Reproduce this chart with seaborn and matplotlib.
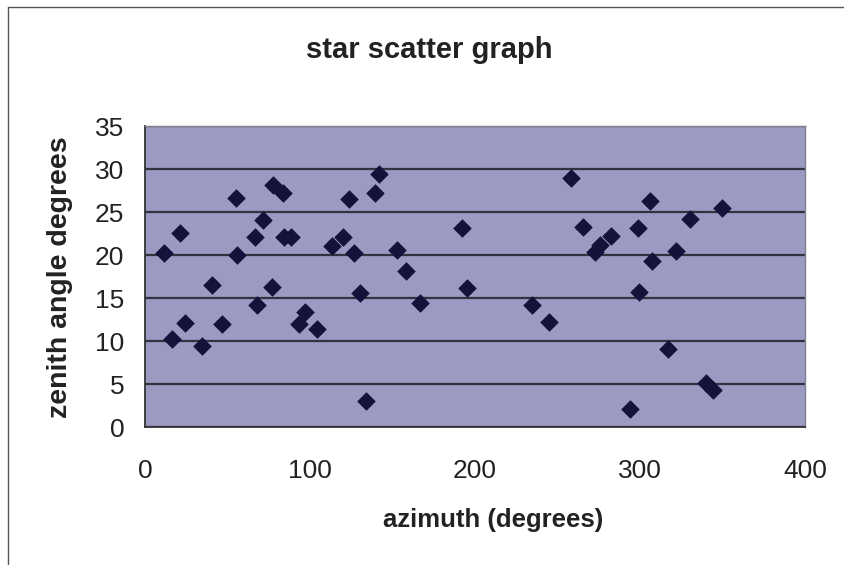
import matplotlib
matplotlib.use("Agg")
import matplotlib.pyplot as plt
import seaborn as sns
import pandas as pd
from matplotlib.lines import Line2D

azimuth = [11.5, 21.2, 16.6, 24.3, 34.6, 40.4, 46.7, 55.0, 56.0, 66.7,
           68.1, 71.6, 76.8, 77.4, 83.5, 84.5, 88.5, 93.4, 96.8, 104.1,
           113.6, 119.7, 123.9, 126.7, 130.4, 133.8, 142.1, 139.5, 192.4, 153.0,
           158.1, 166.4, 195.1, 234.3, 245.0, 257.9, 265.3, 282.4, 275.9, 272.5,
           298.8, 306.2, 307.5, 299.2, 321.8, 330.1, 349.7, 317.2, 340.0, 344.0,
           294.1]
zenith = [20.2, 22.6, 10.3, 12.1, 9.5, 16.5, 12.0, 26.6, 20.0, 22.1,
          14.2, 24.1, 16.3, 28.1, 27.2, 22.1, 22.1, 12.0, 13.4, 11.4,
          21.1, 22.1, 26.5, 20.3, 15.6, 3.1, 29.4, 27.2, 23.2, 20.6,
          18.2, 14.4, 16.2, 14.2, 12.2, 29.0, 23.3, 22.2, 21.2, 20.4,
          23.1, 26.3, 19.3, 15.7, 20.5, 24.2, 25.5, 9.1, 5.1, 4.3,
          2.1]
x_ticks = [0, 100, 200, 300, 400]
y_ticks = [0, 5, 10, 15, 20, 25, 30, 35]

df = pd.DataFrame({"azimuth": azimuth, "zenith": zenith})

sns.set_style("white")
plt.rcParams["font.family"] = ["Liberation Sans", "DejaVu Sans"]

W, H = 845, 565
fig = plt.figure(figsize=(W / 100, H / 100), dpi=100)
fig.patch.set_facecolor("white")
ax = fig.add_axes([145 / W, 1 - 427.3 / H, (805 - 145) / W, (427.3 - 126) / H])
ax.set_facecolor("#9a9ac2")

sns.scatterplot(data=df, x="azimuth", y="zenith", marker="D", s=80,
                color="#12123a", edgecolor="#12123a", linewidth=0.5,
                ax=ax, zorder=3)

ax.set_xlim(0, 400)
ax.set_ylim(0, 35)
ax.set_xticks(x_ticks)
ax.set_yticks(y_ticks)
ax.yaxis.grid(True, color="#333340", linewidth=1.6)
ax.xaxis.grid(False)
ax.set_axisbelow(True)

for side in ["left", "bottom"]:
    ax.spines[side].set_color("#333333")
    ax.spines[side].set_linewidth(1.3)
for side in ["top", "right"]:
    ax.spines[side].set_color("#808090")
    ax.spines[side].set_linewidth(1.0)

ax.tick_params(axis="both", direction="out", width=1.0,
               color="#333333", labelsize=19, labelcolor="#222222")
ax.tick_params(axis="y", length=6, pad=9)
ax.tick_params(axis="x", length=5, pad=18)

ax.set_xlabel("azimuth (degrees)", fontsize=18.5, fontweight="bold",
              color="#222222")
ax.xaxis.set_label_coords((493.5 - 145) / 660, -(520 - 427.3) / 301.3)
ax.xaxis.label.set_va("center")
ax.set_ylabel("zenith angle degrees", fontsize=20.5, fontweight="bold",
              color="#222222")
ax.yaxis.set_label_coords(-(145 - 60) / 660, (427.3 - 277) / 301.3)
ax.yaxis.label.set_va("center")

fig.text(429 / W, 1 - 50.5 / H, "star scatter graph", fontsize=21,
         fontweight="bold", color="#222222", ha="center", va="center")

# chart frame (left and top edges)
fig.add_artist(Line2D([8 / W, 8 / W], [0, 1 - 7 / H], transform=fig.transFigure,
                      color="#555555", linewidth=1.0))
fig.add_artist(Line2D([8 / W, 1], [1 - 7 / H, 1 - 7 / H], transform=fig.transFigure,
                      color="#555555", linewidth=1.0))

fig.savefig("out.png", dpi=100, facecolor="white")
